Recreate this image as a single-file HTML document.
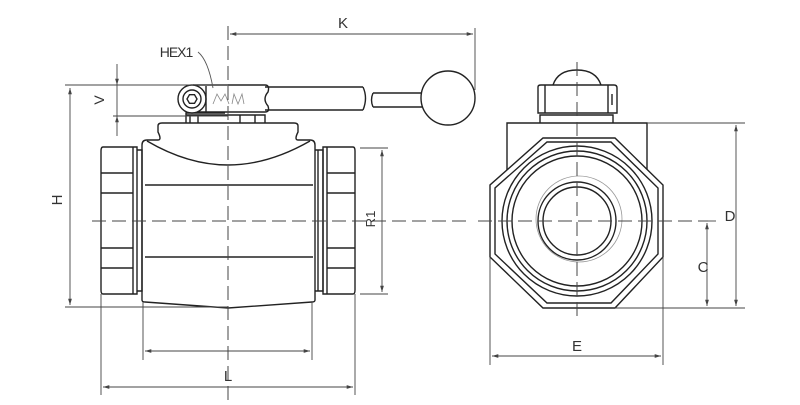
<!DOCTYPE html>
<html><head><meta charset="utf-8"><style>
html,body{margin:0;padding:0;background:#fff;width:800px;height:405px;overflow:hidden}
svg{display:block}
text{font-family:"Liberation Sans",sans-serif;fill:#333}
</style></head><body>
<svg width="800" height="405" viewBox="0 0 800 405" xmlns="http://www.w3.org/2000/svg">
<defs>
<marker id="a" viewBox="0 0 10 10" refX="10" refY="5" markerWidth="7" markerHeight="7" orient="auto-start-reverse"><path d="M0,2 L10,5 L0,8 z" fill="#444"/></marker>
</defs>
<g stroke="#222" fill="none" stroke-width="1.4">
<path d="M103,147 H137 V294 H103 Q101,294 101,290 V151 Q101,147 103,147 Z"/>
<path d="M133,147 V294 M101,173 H133 M101,193 H133 M101,248 H133 M101,268 H133"/>
<path d="M323,147 H353 Q355,147 355,151 V290 Q355,294 353,294 H323 Z"/>
<path d="M327,147 V294 M327,173 H355 M327,193 H355 M327,248 H355 M327,268 H355"/>
<path d="M137,150 H142 V291 H137 M315,150 H323 V291 H315 M318,150 V291"/>
<path d="M142,145 Q142,140 147,140 H158 Q162,140 158,132 V126 Q158,123 162,123 H294 Q298,123 298,126 V132 Q294,140 298,140 H310 Q315,140 315,145 V300 Q315,302 312,302 L228,308 L145,302 Q142,302 142,300 Z"/>
<path d="M147,141 Q188,165 228,165 Q268,165 310,141"/>
<path d="M145,185 H313 M145,257 H313"/>
<path d="M186,123 V115 H265 V123 M186,115 V113 H225 M190,115 V123 M198,115 V123 M240,115 V123 M255,115 V123"/>
<path fill="#fff" d="M193,85 H265 Q270,85 268,92 Q262,99 268,106 Q270,112 265,112 H193"/>
<path d="M265,87 H363 M265,110 H363 M363,87 Q368,98 363,110"/>
<path d="M373,93 Q370,100 373,107 M373,93 H422 M373,107 H422"/>
<circle cx="448" cy="98" r="27" fill="#fff"/>
<circle cx="192" cy="99" r="14" fill="#fff"/>
<circle cx="192" cy="99" r="9" fill="none"/>
<path d="M187,99 L189.5,94.7 H194.5 L197,99 L194.5,103.3 H189.5 Z"/>
<path d="M206,86 V112"/>
<path d="M213,104 L217,94 L221,101 L225,94 L229,104 M232,104 L234,94 L238,104 L242,94 L244,104" stroke-width="0.8" stroke="#888"/>
<path d="M507,180 V123 H647 V180"/>
<path d="M543,138 H615 L663,185 V257 L615,308 H543 L490,257 V185 Z" fill="#fff"/>
<path d="M547,142 H611 L658,188 V254 L611,303 H547 L495,254 V188 Z"/>
<circle cx="577" cy="221" r="75"/>
<circle cx="577" cy="221" r="70"/>
<circle cx="577" cy="221" r="65"/>
<circle cx="577" cy="221" r="39"/>
<circle cx="577" cy="221" r="34"/>
<circle cx="579" cy="219" r="43" stroke="#999" stroke-width="0.8"/>
<path d="M540,123 V115 H613 V123 M538,113 V87 Q538,85 541,85 H614 Q617,85 617,88 V113 Z M545,85 V113 M608,85 V113"/>
<path d="M553,85 Q558,70 577,70 Q596,70 601,85"/>
<path d="M612,94 V105"/>
</g>
<g stroke="#444" stroke-width="1" fill="none" stroke-dasharray="14,6">
<path d="M228,26 V405"/>
<path d="M92,221 H472"/>
<path d="M577,62 V322"/>
<path d="M478,221 H708"/>
</g>
<g stroke="#444" stroke-width="0.9" fill="none">
<path d="M475,28 V90"/>
<path d="M230,34 H473" marker-start="url(#a)" marker-end="url(#a)"/>
<path d="M65,85 H228 M113,116 H228"/>
<path d="M117,64 V85" marker-end="url(#a)"/>
<path d="M117,116 V136" marker-start="url(#a)"/>
<path d="M117,85 V116"/>
<path d="M65,307 H228"/>
<path d="M70,88 V305" marker-start="url(#a)" marker-end="url(#a)"/>
<path d="M360,148 H388 M360,294 H388"/>
<path d="M382,150 V292" marker-start="url(#a)" marker-end="url(#a)"/>
<path d="M143,302 V360 M312,302 V360"/>
<path d="M145,351 H310" marker-start="url(#a)" marker-end="url(#a)"/>
<path d="M101,294 V395 M355,294 V395"/>
<path d="M103,387 H353" marker-start="url(#a)" marker-end="url(#a)"/>
<path d="M647,123 H745 M615,308 H745"/>
<path d="M736,125 V306" marker-start="url(#a)" marker-end="url(#a)"/>
<path d="M708,221 H716"/>
<path d="M707,223 V306" marker-start="url(#a)" marker-end="url(#a)"/>
<path d="M490,257 V365 M663,257 V365"/>
<path d="M492,356 H661" marker-start="url(#a)" marker-end="url(#a)"/>
<path d="M198,52 Q208,60 213,88" stroke="#555"/>
</g>
<text x="343" y="28" font-size="15" text-anchor="middle">K</text>
<text x="176" y="57" font-size="14" text-anchor="middle" letter-spacing="-1">HEX1</text>
<text x="104" y="100" font-size="14" text-anchor="middle" transform="rotate(-90 104 100)">V</text>
<text x="62" y="200" font-size="15" text-anchor="middle" transform="rotate(-90 62 200)">H</text>
<text x="375" y="219" font-size="13" text-anchor="middle" transform="rotate(-90 375 219)">R1</text>
<text x="228" y="381" font-size="15" text-anchor="middle">L</text>
<text x="730" y="221" font-size="15" text-anchor="middle">D</text>
<text x="703" y="272" font-size="15" text-anchor="middle">C</text>
<text x="577" y="351" font-size="15" text-anchor="middle">E</text>
</svg>
</body></html>
